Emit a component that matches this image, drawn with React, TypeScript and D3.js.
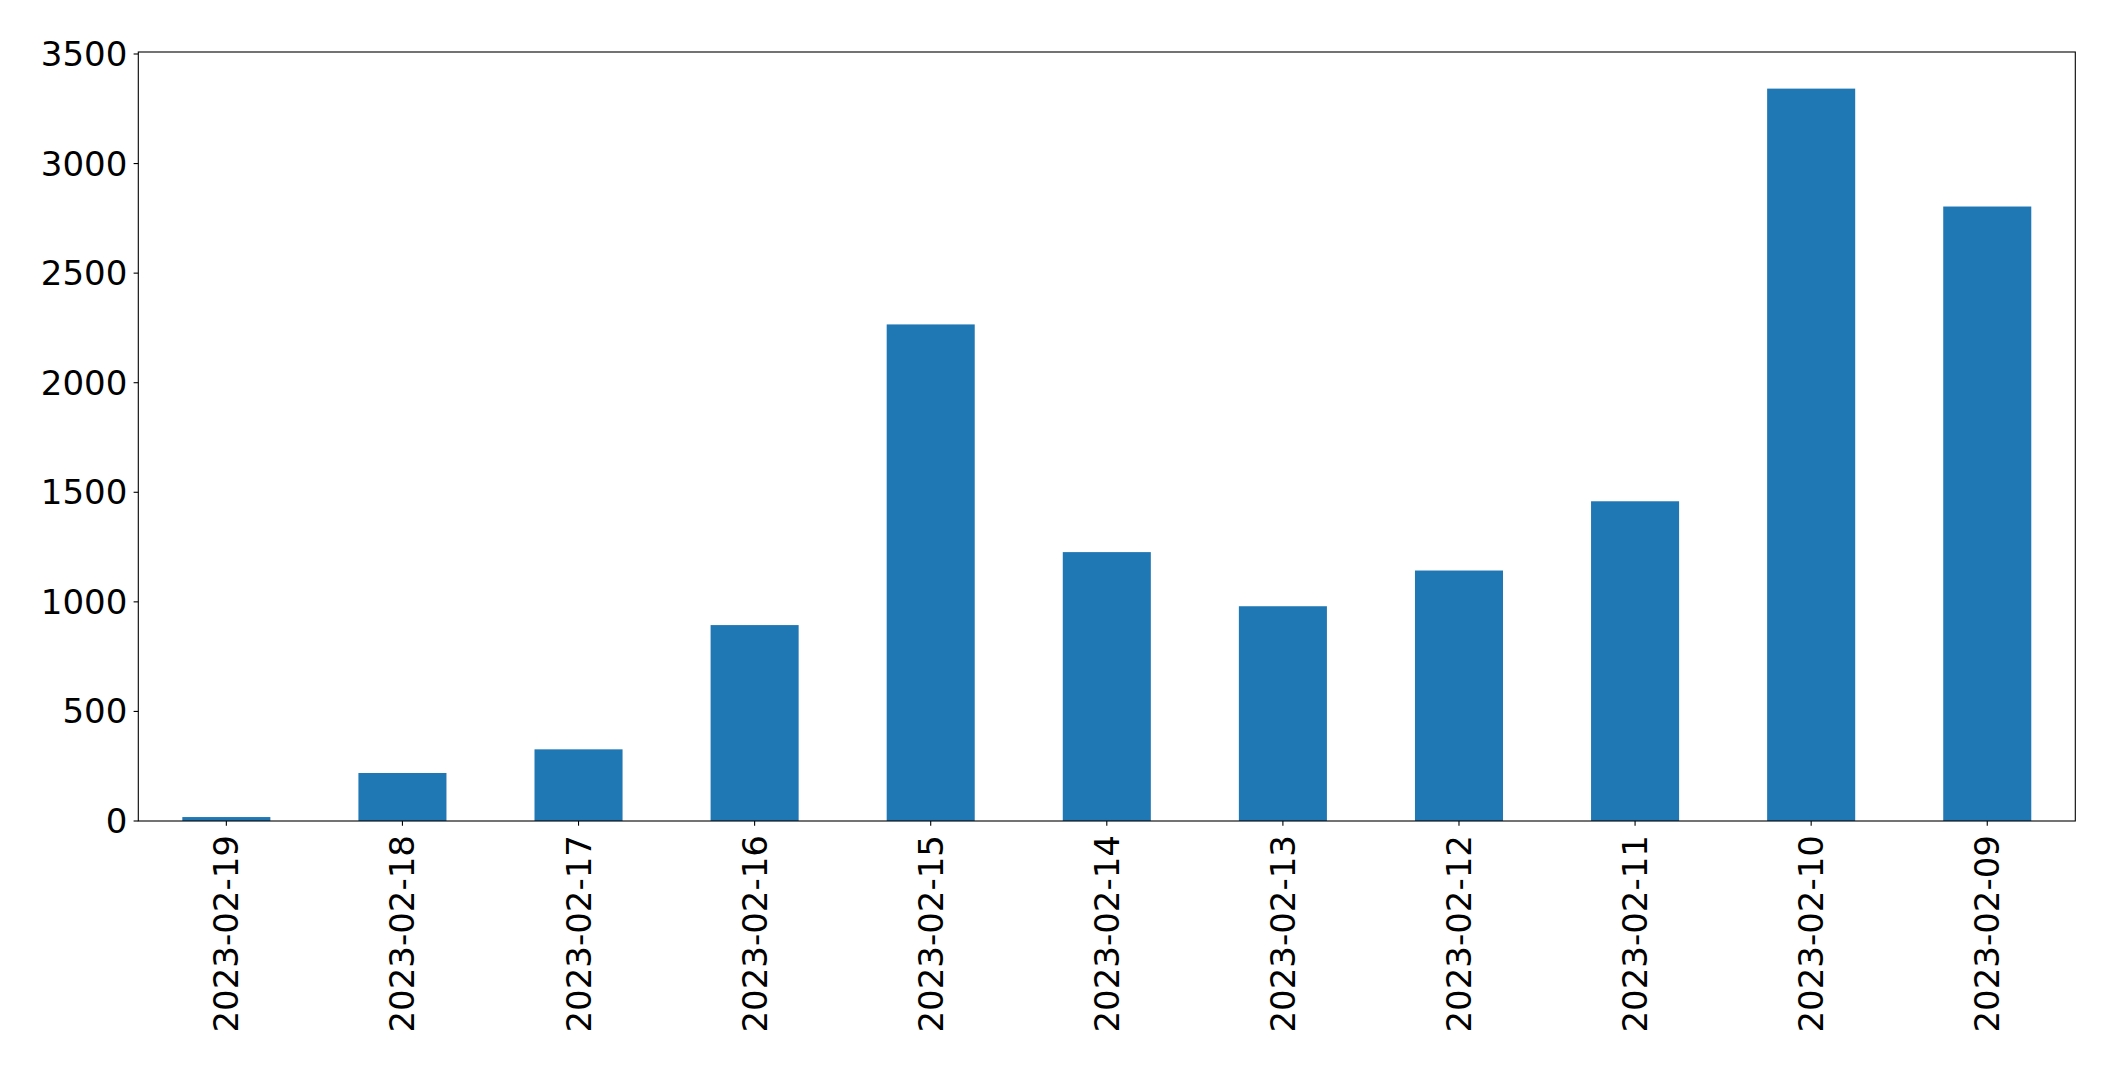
import React from "react";
import * as d3 from "d3";

const categories = [
  "2023-02-19", "2023-02-18", "2023-02-17", "2023-02-16", "2023-02-15", "2023-02-14",
  "2023-02-13", "2023-02-12", "2023-02-11", "2023-02-10", "2023-02-09",
];
const values = [18, 219, 327, 894, 2266, 1227, 980, 1143, 1459, 3342, 2804];
const yTicks = [0, 500, 1000, 1500, 2000, 2500, 3000, 3500];

const W = 2115;
const H = 1073;
const left = 138.3;
const right = 2075.3;
const top = 52;
const bottom = 821;
const FONT = "'DejaVu Sans', sans-serif";
const FS = 34;

export default function App() {
  const x = d3.scaleBand<string>().domain(categories).range([left, right]).paddingInner(0.5).paddingOuter(0.25);
  const yMax = (d3.max(values) as number) * 1.05;
  const y = d3.scaleLinear().domain([0, yMax]).range([bottom, top]);
  const bw = x.bandwidth();
  return (
    <svg width={W} height={H} style={{ position: "absolute", left: 0, top: 0, display: "block", background: "#fff" }}>
      <rect x={0} y={0} width={W} height={H} fill="#fff" />
      {values.map((v, i) => (
        <rect key={i} x={x(categories[i])} y={y(v)} width={bw} height={y(0) - y(v)} fill="#1f77b4" />
      ))}
      <rect x={left} y={top} width={right - left} height={bottom - top} fill="none" stroke="#000" strokeWidth={1.1} />
      {yTicks.map((t) => (
        <g key={t}>
          <line x1={left - 4.7} x2={left} y1={y(t)} y2={y(t)} stroke="#000" strokeWidth={1.1} />
          <text x={left - 11} y={y(t)} textAnchor="end" dominantBaseline="central" fontFamily={FONT} fontSize={FS} fill="#000">
            {t}
          </text>
        </g>
      ))}
      {categories.map((c) => {
        const cx = (x(c) as number) + bw / 2;
        return (
          <g key={c}>
            <line x1={cx} x2={cx} y1={bottom} y2={bottom + 4.7} stroke="#000" strokeWidth={1.1} />
            <text
              transform={`translate(${cx},${bottom + 14}) rotate(-90)`}
              textAnchor="end"
              dominantBaseline="central"
              fontFamily={FONT}
              fontSize={FS}
              fill="#000"
            >
              {c}
            </text>
          </g>
        );
      })}
    </svg>
  );
}
